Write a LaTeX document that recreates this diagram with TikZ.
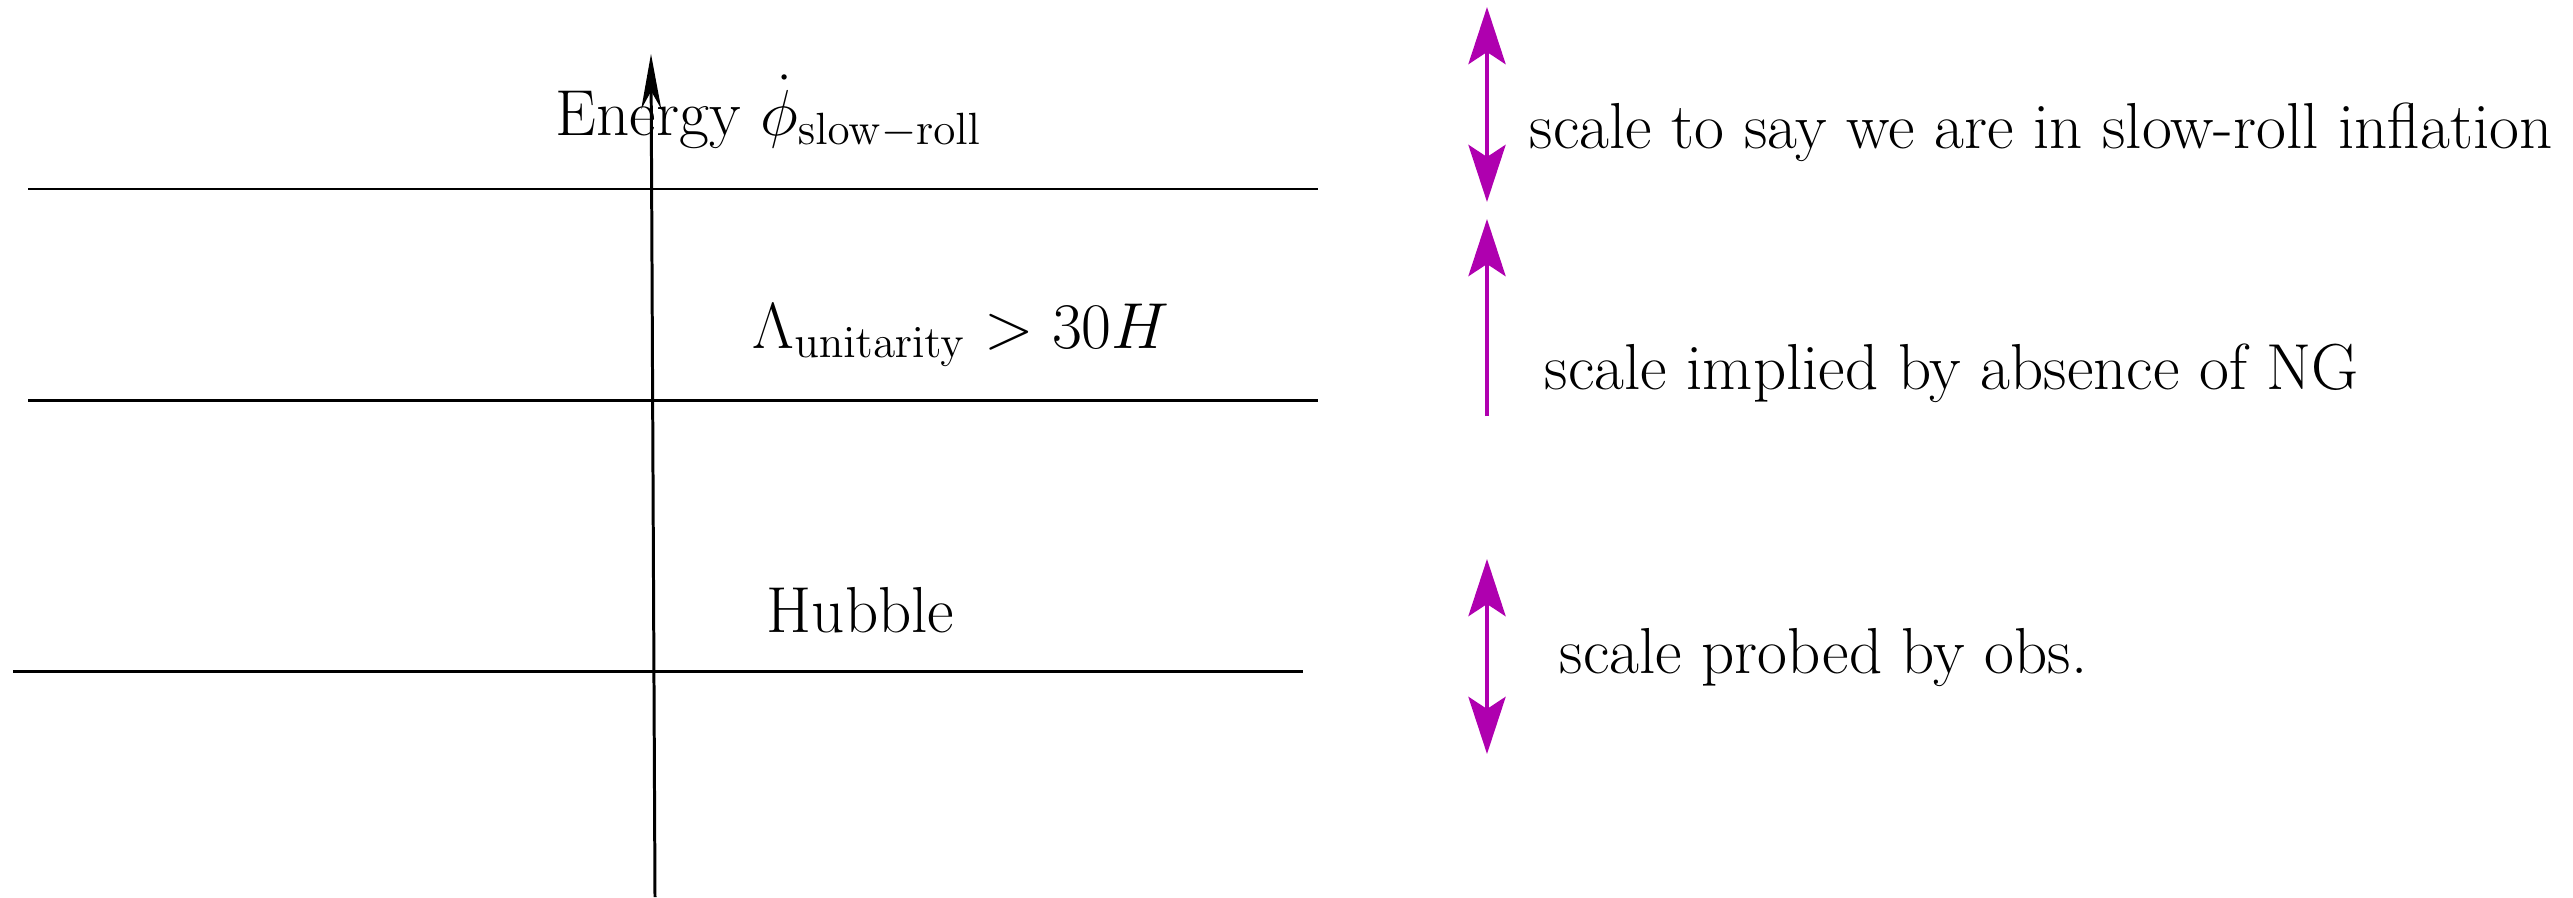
\documentclass[tikz,border=0pt]{standalone}
\usetikzlibrary{arrows.meta}
\definecolor{scalecol}{RGB}{175,0,175}
\begin{document}
\begin{tikzpicture}
  [x=0.01cm,y=-0.01cm,every node/.style={font=\LARGE,scale=1.07,inner sep=0pt},
   level/.style={line width=0.85pt},
   twoway/.style={scalecol,line width=1.4pt,>={Stealth[length=0.57cm,width=0.37cm,inset=0.12cm]},<->},
   oneway/.style={scalecol,line width=1.4pt,>={Stealth[length=0.57cm,width=0.37cm,inset=0.12cm]},->}]
  \useasboundingbox (0,0) rectangle (2573,897);
  % energy levels
  \coordinate (a1) at (28,189);  \coordinate (b1) at (1318,189);
  \coordinate (a2) at (28,400);  \coordinate (b2) at (1318,400);
  \coordinate (a3) at (13,671);  \coordinate (b3) at (1303,671);
  \coordinate (axbot) at (655,897); \coordinate (axtop) at (651,54);

  \foreach \from/\to in {a1/b1, a2/b2, a3/b3}
  \draw[level] (\from) -- (\to);
  \draw[level,-{Stealth[length=0.55cm,width=0.2cm]}] (axbot) -- (axtop);

  \node[anchor=base west] (energy) at (555,135) {Energy $\dot{\phi}_{\mathrm{slow-roll}}$};
  \node[anchor=base west] (lam) at (752,348) {$\Lambda_{\mathrm{unitarity}} > 30H$};
  \node[anchor=base west] (hub) at (766,632) {Hubble};

  % scales
  \coordinate (s1t) at (1487,7);   \coordinate (s1b) at (1487,202);
  \coordinate (s2t) at (1487,219); \coordinate (s2b) at (1487,416);
  \coordinate (s3t) at (1487,559); \coordinate (s3b) at (1487,754);
  \draw[twoway] (s1b) -- (s1t);
  \draw[oneway] (s2b) -- (s2t);
  \draw[twoway] (s3b) -- (s3t);

  \node[anchor=base west] (t1) at (1529,148) {scale to say we are in slow-roll inflation};
  \node[anchor=base west] (t2) at (1544,389) {scale implied by absence of NG};
  \node[anchor=base west] (t3) at (1559,673) {scale probed by obs.};
\end{tikzpicture}
\end{document}
